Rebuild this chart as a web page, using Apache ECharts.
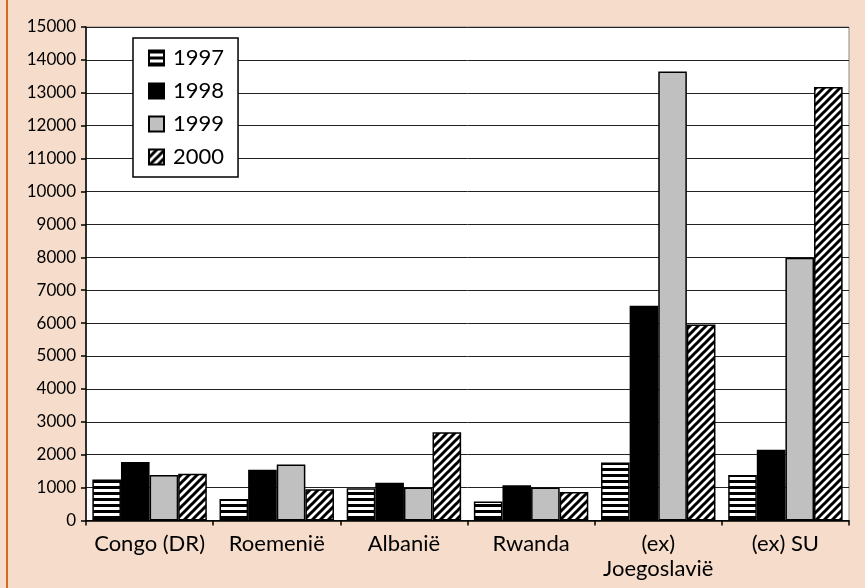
<!DOCTYPE html>
<html>
<head>
<meta charset="utf-8">
<script src="https://cdn.jsdelivr.net/npm/echarts@6/dist/echarts.min.js"></script>
<style>
  html, body { margin: 0; padding: 0; background: #F5DCCB; }
  #chart { width: 865px; height: 588px; }
</style>
</head>
<body>
<div id="chart"></div>
<script>
// categorieen en waarden
var categories = ["Congo (DR)", "Roemenië", "Albanië", "Rwanda", "(ex)\nJoegoslavië", "(ex) SU"];
var years = ["1997", "1998", "1999", "2000"];
var v1997 = [1250, 650, 980, 580, 1760, 1380];
var v1998 = [1780, 1540, 1150, 1070, 6530, 2150];
var v1999 = [1380, 1700, 1000, 1000, 13650, 7990];
var v2000 = [1420, 950, 2680, 870, 5960, 13180];
var yTicks = { min: 0, max: 15000, step: 1000 };

var FONT = "Lato, 'Noto Sans', sans-serif";

// patroon: horizontale strepen
function stripesH() {
  var c = document.createElement("canvas");
  c.width = 6; c.height = 6;
  var g = c.getContext("2d");
  g.fillStyle = "#fff"; g.fillRect(0, 0, 6, 6);
  g.fillStyle = "#000"; g.fillRect(0, 0, 6, 3);
  return c;
}
// patroon: schuine strepen (/)
function stripesD() {
  var c = document.createElement("canvas");
  c.width = 8; c.height = 8;
  var g = c.getContext("2d");
  g.fillStyle = "#fff"; g.fillRect(0, 0, 8, 8);
  g.strokeStyle = "#000"; g.lineWidth = 3;
  g.beginPath();
  g.moveTo(-2, 2); g.lineTo(2, -2);
  g.moveTo(0, 8); g.lineTo(8, 0);
  g.moveTo(6, 10); g.lineTo(10, 6);
  g.stroke();
  return c;
}

var fills = [
  { image: stripesH(), repeat: "repeat" },
  "#000000",
  "#C0C0C0",
  { image: stripesD(), repeat: "repeat" }
];
var data = [v1997, v1998, v1999, v2000];

var chart = echarts.init(document.getElementById("chart"));
chart.setOption({
  animation: false,
  backgroundColor: "#F5DCCB",
  textStyle: { fontFamily: FONT },
  graphic: [{
    type: "rect",
    shape: { x: 6, y: 0, width: 2, height: 588 },
    style: { fill: "#D2691E" }
  }],
  grid: {
    left: 86, right: 16, top: 27, bottom: 67.5,
    show: true, backgroundColor: "#fff", borderColor: "#8a8a8a", borderWidth: 1
  },
  legend: {
    orient: "vertical",
    left: 133, top: 38,
    data: years,
    backgroundColor: "#fff",
    borderColor: "#000", borderWidth: 1.5, borderRadius: 0,
    padding: [9, 14, 9, 15],
    itemGap: 11,
    itemWidth: 15, itemHeight: 15,
    icon: "rect",
    textStyle: { fontSize: 22, color: "#000", fontFamily: FONT, lineHeight: 22, padding: [0, 0, 0, 4] }
  },
  xAxis: {
    type: "category",
    data: categories,
    axisLine: { lineStyle: { color: "#000", width: 1.5 } },
    axisTick: { show: true, length: 5, lineStyle: { color: "#000", width: 1.5 } },
    axisLabel: { fontSize: 22, color: "#000", margin: 11, lineHeight: 25, interval: 0 }
  },
  yAxis: {
    type: "value",
    min: yTicks.min, max: yTicks.max, interval: yTicks.step,
    axisLine: { show: true, lineStyle: { color: "#000", width: 1.5 } },
    axisTick: { show: true, length: 5, lineStyle: { color: "#000", width: 1.5 } },
    axisLabel: { fontSize: 17, color: "#000", margin: 10, formatter: function (v) { return String(v); } },
    splitLine: { show: true, lineStyle: { color: "#222", width: 1 } }
  },
  series: years.map(function (y, i) {
    return {
      name: y,
      type: "bar",
      data: data[i],
      barGap: "0%",
      barCategoryGap: "10%",
      itemStyle: { color: fills[i], borderColor: "#000", borderWidth: 1.5 }
    };
  })
});
</script>
</body>
</html>
